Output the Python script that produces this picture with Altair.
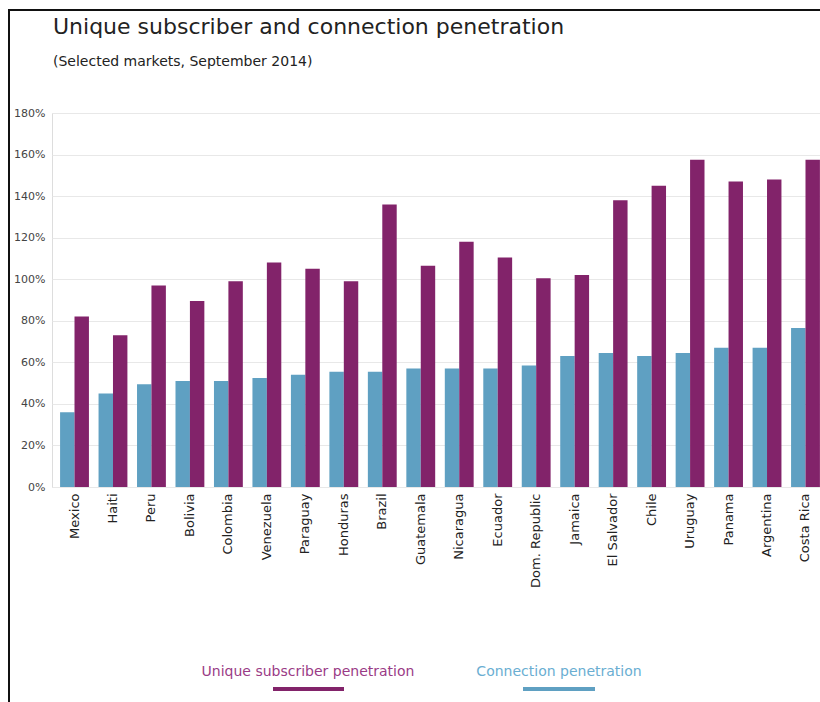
import altair as alt
import pandas as pd

TITLE = "Unique subscriber and connection penetration"
SUBTITLE = "(Selected markets, September 2014)"
COUNTRIES = ["Mexico", "Haiti", "Peru", "Bolivia", "Colombia", "Venezuela", "Paraguay",
             "Honduras", "Brazil", "Guatemala", "Nicaragua", "Ecuador", "Dom. Republic",
             "Jamaica", "El Salvador", "Chile", "Uruguay", "Panama", "Argentina", "Costa Rica"]
UNIQUE = [82, 73, 97, 89.5, 99, 108, 105, 99, 136, 106.5, 118, 110.5, 100.5, 102,
          138, 145, 157.5, 147, 148, 157.5]
CONNECTION = [36, 45, 49.5, 51, 51, 52.5, 54, 55.5, 55.5, 57, 57, 57, 58.5, 63,
              64.5, 63, 64.5, 67, 67, 76.5]
SERIES = ["Unique subscriber penetration", "Connection penetration"]
COLORS = ["#82236a", "#5fa0c2"]
Y_TICKS = [0, 20, 40, 60, 80, 100, 120, 140, 160, 180]

rows = []
for c, u, k in zip(COUNTRIES, UNIQUE, CONNECTION):
    rows.append({"country": c, "series": SERIES[1], "value": k})
    rows.append({"country": c, "series": SERIES[0], "value": u})
df = pd.DataFrame(rows)

FONT = "DejaVu Sans"
W, H = 768, 374

bars = alt.Chart(df).mark_bar().encode(
    x=alt.X("country:N", sort=COUNTRIES, title=None,
            scale=alt.Scale(range=[0, 776], paddingInner=0.25, paddingOuter=0.21),
            axis=alt.Axis(labelAngle=-90, labelFontSize=13, labelColor="#222",
                          labelFont=FONT, domain=False, ticks=False, labelPadding=6)),
    xOffset=alt.XOffset("series:N", sort=[SERIES[1], SERIES[0]]),
    y=alt.Y("value:Q", title=None,
            scale=alt.Scale(domain=[0, 180], nice=False),
            axis=alt.Axis(values=Y_TICKS, labelExpr="datum.value + '%'", labelFontSize=11,
                          labelFont=FONT, labelColor="#444", domain=False, ticks=False,
                          labelPadding=7, gridColor="#e8e8e8", gridWidth=1.2)),
    color=alt.Color("series:N", scale=alt.Scale(domain=SERIES, range=COLORS), legend=None),
)

title = alt.Chart(pd.DataFrame({"t": [TITLE]})).mark_text(
    font=FONT, fontSize=22, color="#222", align="left", baseline="alphabetic"
).encode(text="t:N", x=alt.value(1), y=alt.value(-79))
subtitle = alt.Chart(pd.DataFrame({"t": [SUBTITLE]})).mark_text(
    font=FONT, fontSize=14, color="#222", align="left", baseline="alphabetic"
).encode(text="t:N", x=alt.value(1), y=alt.value(-47))

leg_u = alt.Chart(pd.DataFrame({"s": [SERIES[0]]})).mark_text(
    font=FONT, fontSize=14, color="#9a3b86", align="center", baseline="middle"
).encode(text="s:N", x=alt.value(256), y=alt.value(559))
leg_c = alt.Chart(pd.DataFrame({"s": [SERIES[1]]})).mark_text(
    font=FONT, fontSize=14, color="#6aaed2", align="center", baseline="middle"
).encode(text="s:N", x=alt.value(507), y=alt.value(559))
line_u = alt.Chart(pd.DataFrame({"s": [SERIES[0]]})).mark_rule(
    color=COLORS[0], strokeWidth=4
).encode(x=alt.value(221), x2=alt.value(292), y=alt.value(576))
line_c = alt.Chart(pd.DataFrame({"s": [SERIES[1]]})).mark_rule(
    color=COLORS[1], strokeWidth=4
).encode(x=alt.value(471), x2=alt.value(543), y=alt.value(576))

border_l = alt.Chart(pd.DataFrame({"s": [0]})).mark_rule(color="#111", strokeWidth=2).encode(
    x=alt.value(-43), y=alt.value(-103), y2=alt.value(600))
border_t = alt.Chart(pd.DataFrame({"s": [0]})).mark_rule(color="#111", strokeWidth=2).encode(
    x=alt.value(-44), x2=alt.value(780), y=alt.value(-103))

chart = alt.layer(bars, title, subtitle, leg_u, leg_c, line_u, line_c, border_l, border_t).properties(
    width=W, height=H,
    autosize=alt.AutoSizeParams(type="none"),
    padding={"left": 52, "top": 113, "right": 0, "bottom": 215},
).configure_view(stroke=None).configure(background="white")

chart.save("out.html", embed_options={"renderer": "svg", "actions": False})
